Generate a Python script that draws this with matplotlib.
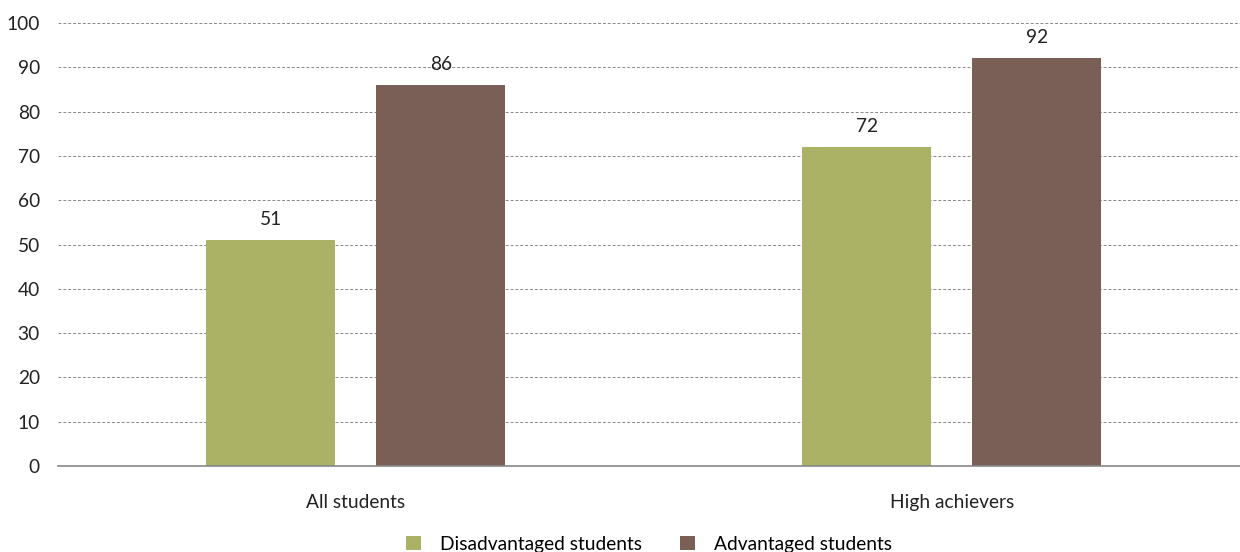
import matplotlib.pyplot as plt
import numpy as np

categories = ["All students", "High achievers"]
series_names = ["Disadvantaged students", "Advantaged students"]
disadvantaged = [51, 72]
advantaged = [86, 92]
yticks = [0, 10, 20, 30, 40, 50, 60, 70, 80, 90, 100]

colors = ["#abb265", "#7a5f57"]

plt.rcParams['font.family'] = ['Lato', 'DejaVu Sans']

fig = plt.figure(figsize=(12.4, 5.52), dpi=100)
ax = fig.add_axes([0.0468, 0.1558, 0.9532, 0.8025])

x = np.arange(len(categories))
w = 0.2166
off = 0.1427
for vals, c, d, name in [(disadvantaged, colors[0], -off, series_names[0]),
                         (advantaged, colors[1], off, series_names[1])]:
    bars = ax.bar(x + d, vals, width=w, color=c, label=name, zorder=3)
    for b, v in zip(bars, vals):
        ax.text(b.get_x() + b.get_width() / 2, v + 2.7, f"{v}",
                ha="center", va="bottom", fontsize=13.8, color="#222222")

ax.set_xlim(-0.5, 1.484)
ax.set_ylim(0, 100)
ax.set_yticks(yticks)
ax.set_xticks(x)
ax.set_xticklabels(categories)
ax.tick_params(axis="both", length=0, labelsize=13.8, colors="#222222")
ax.tick_params(axis="x", pad=20)
ax.tick_params(axis="y", pad=13)
ax.grid(axis="y", linestyle=(0, (3, 2)), color="#888888", linewidth=0.7, zorder=0)
for s in ["top", "right", "left"]:
    ax.spines[s].set_visible(False)
ax.spines["bottom"].set_color("#888888")
ax.spines["bottom"].set_linewidth(1.2)
ax.spines["bottom"].set_zorder(4)

ax.legend(loc="lower center", bbox_to_anchor=(0.5, -0.218), ncol=2,
          frameon=False, fontsize=13.8, handlelength=0.75, handleheight=0.75,
          columnspacing=2.0, handletextpad=1.0, borderpad=0)

fig.savefig("out.png", dpi=100)
